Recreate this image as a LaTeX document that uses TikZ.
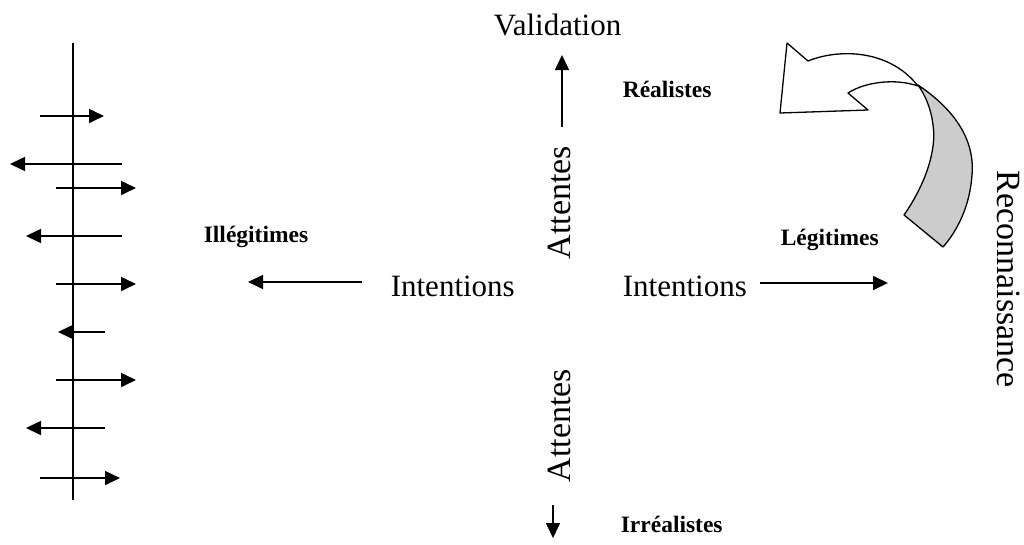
\documentclass[tikz,border=0pt]{standalone}
\usepackage{fontspec}
\setmainfont{Liberation Serif}
\usetikzlibrary{arrows.meta}
\begin{document}
\begin{tikzpicture}[x=1pt,y=-1pt,
  line width=1.6pt,
  tip/.style={-{Triangle[length=15pt,width=14pt]}},
  big/.style={inner sep=0pt,font=\fontsize{31}{36}\selectfont},
  tall/.style={inner sep=0pt,font=\fontsize{34}{40}\selectfont},
  lab/.style={inner sep=0pt,font=\fontsize{23.5}{28}\selectfont\bfseries},
  blockarrow/.style={draw=black,line width=1.3pt,line join=round}]
\useasboundingbox (0,0) rectangle (1024,544);

% vertical axis on the left with its scattered arrows
\coordinate (axtop) at (73,43);
\coordinate (axbot) at (73,500);
\draw (axtop) -- (axbot);
\foreach \y/\a/\b [count=\i] in {116/40/104, 164/122/10, 188/56/136, 236/122/26,
    284/56/136, 332/105/58, 380/56/136, 428/105/26, 478/40/120} {
  \coordinate (s\i) at (\a,\y);
  \coordinate (e\i) at (\b,\y);
  \draw[tip] (s\i) -- (e\i);
}

% central labels
\node[big,anchor=base west] (valid) at (493,35) {Validation};
\node[big,anchor=base west] (intL) at (390,296) {Intentions};
\node[big,anchor=base west] (intR) at (622,296) {Intentions};
\node[tall,anchor=base west,rotate=90] (attU) at (570,260) {Attentes};
\node[tall,anchor=base west,rotate=90] (attD) at (570,483) {Attentes};
\node[tall,anchor=base west,rotate=-90] (recon) at (997,170) {Reconnaissance};

\node[lab,anchor=base west] (real) at (622,97) {Réalistes};
\node[lab,anchor=base west] (irreal) at (620,532) {Irréalistes};
\node[lab,anchor=base west] (illeg) at (203,242) {Illégitimes};
\node[lab,anchor=base west] (leg) at (780,245) {Légitimes};

% axis arrows
\coordinate (upS) at (562,127);
\coordinate (upE) at (562,55);
\draw[tip] (upS) -- (upE);
\coordinate (dnS) at (553,505);
\coordinate (dnE) at (553,538);
\draw[tip] (dnS) -- (dnE);
\coordinate (lfS) at (362,282);
\coordinate (lfE) at (248,282);
\draw[tip] (lfS) -- (lfE);
\coordinate (rtS) at (760,283);
\coordinate (rtE) at (888,283);
\draw[tip] (rtS) -- (rtE);

% curved block arrow: shaded back part, then white front with head
\draw[blockarrow,fill=black!20]
  (918,85) .. controls (955,110) and (975,140) .. (972,175)
  .. controls (970,205) and (958,230) .. (943,247)
  -- (904,215)
  .. controls (925,185) and (937,150) .. (933,125)
  .. controls (931,108) and (925,95) .. (918,85) -- cycle;
\draw[blockarrow,fill=white]
  (808,61) .. controls (840,48) and (890,50) .. (918,86)
  .. controls (895,78) and (865,82) .. (848,93)
  -- (868,110) -- (780,113) -- (787,43) -- cycle;
\end{tikzpicture}
\end{document}
